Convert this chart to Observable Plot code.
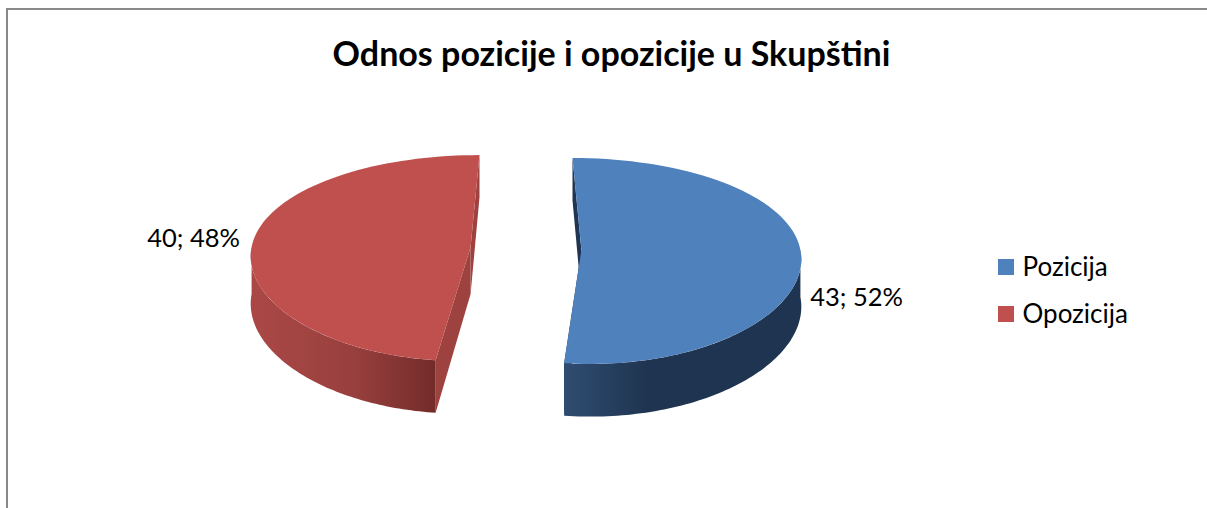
<!DOCTYPE html>
<html><head><meta charset="utf-8">
<script src="https://cdn.jsdelivr.net/npm/d3@7"></script>
<script src="https://cdn.jsdelivr.net/npm/@observablehq/plot@0.6"></script>
<style>
body{margin:0;background:#fff;}
#wrap{position:relative;width:1207px;height:508px;overflow:hidden;background:#fff;}
#frame{position:absolute;left:6px;top:8px;width:1300px;height:600px;border-left:2px solid #898989;border-top:2px solid #898989;}
#chart{position:absolute;left:0;top:0;}
</style></head><body>
<div id="wrap"><div id="frame"></div><div id="chart"></div></div>
<script>
// ---- data ----
const title = "Odnos pozicije i opozicije u Skupštini";
const categories = ["Pozicija", "Opozicija"];
const values = [43, 40];
const colors = ["#4F81BD", "#C0504D"];
const sideColors = ["#1F3551", "#9E423F"];
const wallStops = [["#2F4D71", "#1F3450"], ["#AB4846", "#722C2A"]];

// ---- layout ----
const W = 1207, H = 508;
const G = {cx: 525.5, cy: 248, rx: 219, ry: 101.8, persp: 0.107, perspX: 0.05, depth: 47, explode: 55.5, shear: 8.9};
const labelOffsets = [[9, 42], [-13, -2]];
const legendX = 998, legendTop = 259, legendPitch = 47, swatch = 16;
const font = "Lato, 'Open Sans', sans-serif";

const total = d3.sum(values);
const arcs = d3.pie().sort(null).value(d => d)(values);

const slices = arcs.map((a, i) => {
  const mid = (a.startAngle + a.endAngle) / 2;
  return {
    i, a0: a.startAngle, a1: a.endAngle, mid,
    ex: G.cx + G.explode * Math.sin(mid),
    ey: G.cy - G.explode * Math.cos(mid) * G.ry / G.rx,
    h: G.shear * Math.sin(mid)
  };
});

function P(sl, t, r, lvl) {
  const c = Math.cos(t), s = Math.sin(t);
  const py = 1 / (1 + G.persp * r * c);
  const px = 1 / (1 + G.perspX * r * c);
  return {
    x: sl.ex + r * (G.rx * s * px - sl.h * c),
    y: sl.ey - r * G.ry * c * py + lvl * G.depth * py
  };
}
function arcPts(sl, t0, t1, lvl, n = 80) {
  const pts = [];
  for (let k = 0; k <= n; k++) pts.push(P(sl, t0 + (t1 - t0) * k / n, 1, lvl));
  return pts;
}

const polys = [];
slices.forEach(sl => {
  // cut faces
  [sl.a0, sl.a1].forEach(t => {
    polys.push({fill: sideColors[sl.i], pts: [P(sl, t, 0, 0), P(sl, t, 1, 0), P(sl, t, 1, 1), P(sl, t, 0, 1)]});
  });
  // outer wall (front-facing part)
  const w0 = Math.max(sl.a0, Math.PI / 2), w1 = Math.min(sl.a1, 3 * Math.PI / 2);
  if (w1 > w0) {
    const top = arcPts(sl, w0, w1, 0), bot = arcPts(sl, w0, w1, 1).reverse();
    polys.push({fill: `url(#wall${sl.i})`, pts: top.concat(bot)});
  }
  // top face
  polys.push({fill: colors[sl.i], pts: [P(sl, 0, 0, 0)].concat(arcPts(sl, sl.a0, sl.a1, 0))});
});

const labels = slices.map(sl => {
  const p = P(sl, sl.mid, 1, 0);
  const v = values[sl.i];
  return {
    x: p.x + labelOffsets[sl.i][0], y: p.y + labelOffsets[sl.i][1],
    text: `${v}; ${Math.round(v / total * 100)}%`,
    anchor: Math.sin(sl.mid) >= 0 ? "start" : "end"
  };
});

const legend = categories.map((c, i) => ({cat: c, y1: legendTop + i * legendPitch}));

const marks = polys.map(p => Plot.line(p.pts, {x: "x", y: "y", fill: p.fill, stroke: "none", curve: "linear"}));
marks.push(
  Plot.text([title], {x: () => 611, y: () => 55, text: d => d, fontSize: 34, fontWeight: "bold", fill: "#000", textAnchor: "middle", fontFamily: font}),
  Plot.text(labels.filter(d => d.anchor === "start"), {x: "x", y: "y", text: "text", textAnchor: "start", fontSize: 25.5, fill: "#000", fontFamily: font}),
  Plot.text(labels.filter(d => d.anchor === "end"), {x: "x", y: "y", text: "text", textAnchor: "end", fontSize: 25.5, fill: "#000", fontFamily: font}),
  Plot.rect(legend, {x1: () => legendX, x2: () => legendX + swatch, y1: "y1", y2: d => d.y1 + swatch, fill: "cat"}),
  Plot.text(legend, {x: () => legendX + swatch + 8, y: d => d.y1 + swatch / 2, text: "cat", textAnchor: "start", fontSize: 26, fill: "#000", fontFamily: font})
);

const svg = Plot.plot({
  width: W, height: H,
  margin: 0,
  x: {domain: [0, W], range: [0, W], axis: null},
  y: {domain: [0, H], range: [0, H], axis: null},
  color: {domain: categories, range: colors},
  style: {background: "transparent", overflow: "visible"},
  marks
});

// gradients for the walls
const ns = "http://www.w3.org/2000/svg";
const defs = document.createElementNS(ns, "defs");
wallStops.forEach((st, i) => {
  const g = document.createElementNS(ns, "linearGradient");
  g.setAttribute("id", `wall${i}`);
  g.setAttribute("x1", "0"); g.setAttribute("x2", "1"); g.setAttribute("y1", "0"); g.setAttribute("y2", "0");
  const offs = i === 0 ? [[0, st[0]], [0.35, st[1]], [1, st[1]]] : [[0, st[0]], [0.55, "#98403E"], [1, st[1]]];
  offs.forEach(([o, c]) => {
    const s = document.createElementNS(ns, "stop");
    s.setAttribute("offset", o); s.setAttribute("stop-color", c);
    g.appendChild(s);
  });
  defs.appendChild(g);
});
svg.insertBefore(defs, svg.firstChild);
document.getElementById("chart").appendChild(svg);
</script>
</body></html>
